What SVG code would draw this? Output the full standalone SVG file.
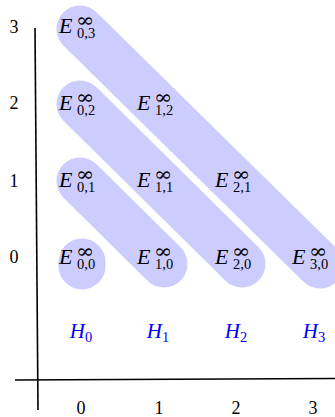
<svg xmlns="http://www.w3.org/2000/svg" width="335" height="417" viewBox="0 0 335 417">
<style>
.blob{stroke:#ccccff;stroke-linecap:round;fill:none;stroke-width:47}
.axis{stroke:#000;stroke-width:1.6;fill:none}
.tick{font-family:"Liberation Serif",serif;font-size:18px;fill:#000;text-anchor:middle}
.E{font-family:"Liberation Serif",serif;font-style:italic;font-size:22px;fill:#000}
.inf{font-family:"DejaVu Serif",serif;font-size:20px;fill:#000}
.sub{font-family:"Liberation Serif",serif;font-size:14.5px;fill:#000}
.H{font-family:"Liberation Serif",serif;font-style:italic;font-size:21px;fill:#0000ff;text-anchor:middle}
.Hs{font-style:normal;font-size:14.5px}
</style>
<g id="blobs">
<line class="blob" x1="82" y1="262" x2="82" y2="266"/>
<line class="blob" x1="80" y1="181" x2="164" y2="264"/>
<line class="blob" x1="80" y1="104" x2="242" y2="264"/>
<line class="blob" x1="80" y1="29" x2="320" y2="265"/>
</g>
<g id="axes">
<line class="axis" x1="35" y1="28" x2="38" y2="410"/>
<line class="axis" x1="15" y1="380" x2="335" y2="378.5"/>
</g>
<g id="ticks">
<text class="tick" x="14" y="33">3</text>
<text class="tick" x="14" y="109">2</text>
<text class="tick" x="14" y="187">1</text>
<text class="tick" x="14" y="263">0</text>
<text class="tick" x="81" y="414">0</text>
<text class="tick" x="159" y="414">1</text>
<text class="tick" x="236" y="414">2</text>
<text class="tick" x="313" y="414">3</text>
</g>
<g id="n03"><text class="E" x="59" y="33">E</text><text class="inf" x="76" y="27" textLength="18" lengthAdjust="spacingAndGlyphs">∞</text><text class="sub" x="77" y="38">0,3</text></g>
<g id="n02"><text class="E" x="59" y="110">E</text><text class="inf" x="76" y="104" textLength="18" lengthAdjust="spacingAndGlyphs">∞</text><text class="sub" x="77" y="115">0,2</text></g>
<g id="n12"><text class="E" x="137" y="110">E</text><text class="inf" x="154" y="104" textLength="18" lengthAdjust="spacingAndGlyphs">∞</text><text class="sub" x="155" y="115">1,2</text></g>
<g id="n01"><text class="E" x="59" y="187">E</text><text class="inf" x="76" y="181" textLength="18" lengthAdjust="spacingAndGlyphs">∞</text><text class="sub" x="77" y="192">0,1</text></g>
<g id="n11"><text class="E" x="137" y="187">E</text><text class="inf" x="154" y="181" textLength="18" lengthAdjust="spacingAndGlyphs">∞</text><text class="sub" x="155" y="192">1,1</text></g>
<g id="n21"><text class="E" x="215" y="187">E</text><text class="inf" x="232" y="181" textLength="18" lengthAdjust="spacingAndGlyphs">∞</text><text class="sub" x="233" y="192">2,1</text></g>
<g id="n00"><text class="E" x="59" y="264">E</text><text class="inf" x="76" y="258" textLength="18" lengthAdjust="spacingAndGlyphs">∞</text><text class="sub" x="77" y="269">0,0</text></g>
<g id="n10"><text class="E" x="137" y="264">E</text><text class="inf" x="154" y="258" textLength="18" lengthAdjust="spacingAndGlyphs">∞</text><text class="sub" x="155" y="269">1,0</text></g>
<g id="n20"><text class="E" x="215" y="264">E</text><text class="inf" x="232" y="258" textLength="18" lengthAdjust="spacingAndGlyphs">∞</text><text class="sub" x="233" y="269">2,0</text></g>
<g id="n30"><text class="E" x="292" y="264">E</text><text class="inf" x="309" y="258" textLength="18" lengthAdjust="spacingAndGlyphs">∞</text><text class="sub" x="310" y="269">3,0</text></g>
<g id="H">
<text class="H" x="81" y="338">H<tspan class="Hs" dy="4">0</tspan></text>
<text class="H" x="158" y="338">H<tspan class="Hs" dy="4">1</tspan></text>
<text class="H" x="236" y="338">H<tspan class="Hs" dy="4">2</tspan></text>
<text class="H" x="314" y="338">H<tspan class="Hs" dy="4">3</tspan></text>
</g>
</svg>
